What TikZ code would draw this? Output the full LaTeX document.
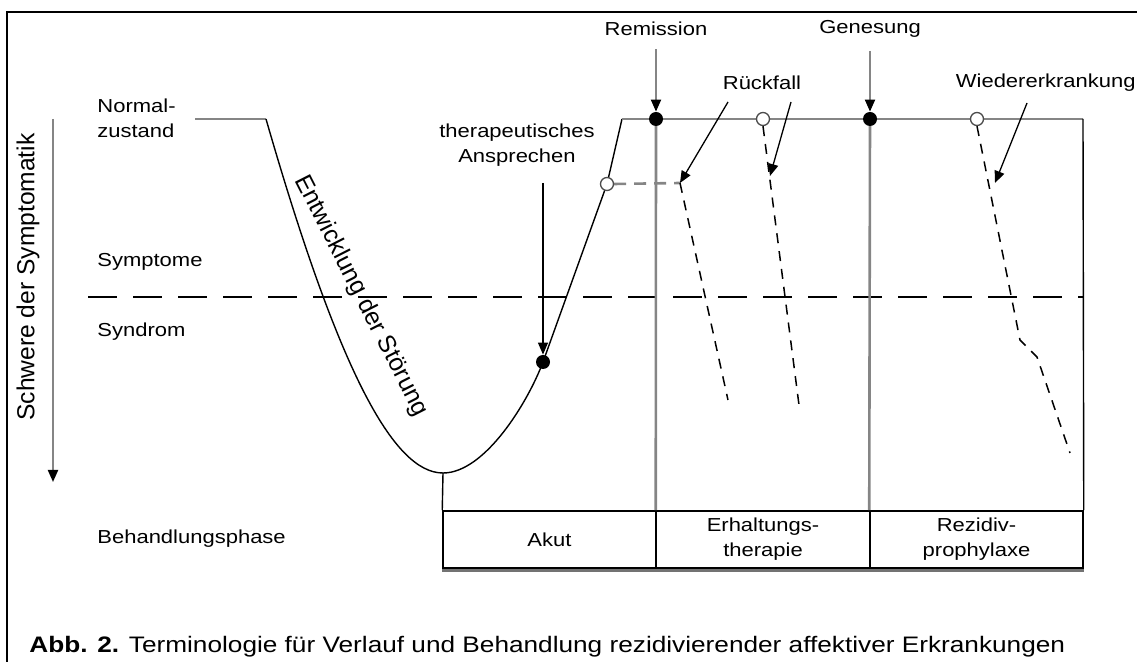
\documentclass[tikz,border=0pt]{standalone}
\usepackage{fontspec}
\setmainfont{Liberation Sans}
\newfontfamily\labfont{Liberation Sans}[FakeStretch=1.17]
\usetikzlibrary{arrows.meta}
\pgfdeclarelayer{fg}
\pgfsetlayers{main,fg}
\begin{document}
\begin{tikzpicture}[x=0.5pt,y=-0.5pt,
  lbl/.style={font=\labfont\fontsize{9.4}{12.5}\selectfont, inner sep=0pt},
  rot/.style={font=\fontsize{12.3}{14}\selectfont, inner sep=0pt},
  gline/.style={draw=black!48, line width=1.3pt},
  bline/.style={draw=black, line width=0.7pt},
  curve/.style={draw=black, line width=0.7pt},
  tip/.style={-{Triangle[length=6pt,width=5pt,color=black]}},
  garrow/.style={gline, line width=1pt, tip},
  barrow/.style={draw=black, line width=0.65pt, tip},
  levelline/.style={draw=black, line width=0.8pt, dash pattern=on 14.5pt off 8pt},
  relapse/.style={draw=black, line width=0.75pt, dash pattern=on 5pt off 4pt},
  grelapse/.style={draw=black!48, line width=1.3pt, dash pattern=on 6pt off 4pt},
  dot/.style={circle, fill=black, inner sep=0pt, minimum size=7pt},
  odot/.style={circle, draw=black!70, line width=0.65pt, fill=white, inner sep=0pt, minimum size=6.5pt},
  cell/.style={rectangle, draw=black, line width=0.75pt, minimum width=106.5pt, minimum height=28.5pt, inner sep=0pt, align=center, font=\labfont\fontsize{9.4}{12.5}\selectfont}]

\useasboundingbox (0,0) rectangle (1137,662);

% frame
\draw[black, line width=0.8pt] (7,662) -- (7,12) -- (1137,12);

% markers on the course
\begin{pgfonlayer}{fg}
  \node[dot]  (resp) at (543,362) {};
  \node[odot] (oc1)  at (607,184) {};
  \node[dot]  (rem)  at (656,119) {};
  \node[odot] (oc2)  at (763,119) {};
  \node[dot]  (gen)  at (870,119) {};
  \node[odot] (oc3)  at (977,119) {};
\end{pgfonlayer}

% treatment phase table
\node[cell] (akut) at (549.5,539.5) {Akut};
\node[cell] (erh)  at (763,539.5) {Erhaltungs-\\therapie};
\node[cell] (rez)  at (976.5,539.5) {Rezidiv-\\prophylaxe};
\draw[black!55, line width=1.2pt] ([yshift=-0.9pt]akut.south west) -- ([yshift=-0.9pt]rez.south east);

% levels
\coordinate (n1) at (195,119);
\coordinate (n2) at (266,119);
\coordinate (bot) at (443,473);
\coordinate (tc) at (622,119);
\coordinate (tr) at (1083,119);
\coordinate (dl) at (88,297);
\coordinate (dr) at (1083,297);

\draw[levelline] (dl) -- (dr);

% course of the disorder
\draw[gline] (n1) -- (n2);
\draw[curve] (n2) .. controls (338,369) and (393,473) .. (bot)
  .. controls (485,473) and (528,402) .. (resp.center) -- (oc1.center) -- (tc);
\draw[gline] (tc) -- (tr);
\draw[bline] (tr) -- (rez.north east);
\draw[gline] (rem.center) -- (erh.north west);
\draw[gline] (gen.center) -- (rez.north west);
\draw[curve] (bot) -- (akut.north west);

% relapses and recurrence
\coordinate (r1) at (680,183);
\coordinate (r1e) at (728,400);
\coordinate (r2e) at (799,405);
\coordinate (r3a) at (1020,340);
\coordinate (r3b) at (1037,357);
\coordinate (r3e) at (1070,453);
\draw[grelapse] (oc1.east) -- (r1);
\draw[relapse] (r1) -- (r1e);
\draw[relapse] (oc2.south) -- (r2e);
\draw[relapse] (oc3.south) -- (r3a) -- (r3b) -- (r3e);

% axis
\coordinate (ax1) at (53,119);
\coordinate (ax2) at (53,482);
\draw[garrow] (ax1) -- (ax2);
\node[rot, rotate=90] (axl) at (28,277) {Schwere der Symptomatik};

% left labels
\node[lbl, anchor=west, align=left] (norm) at (97,118) {Normal-\\zustand};
\node[lbl, anchor=west] (sympt) at (97,262) {Symptome};
\node[lbl, anchor=west] (synd) at (97,332) {Syndrom};
\node[lbl, anchor=west] (beh) at (97,539) {Behandlungsphase};

% curve label
\node[rot, rotate=-63] (entw) at (361,296) {Entwicklung der Störung};

% event labels
\node[lbl, align=center] (ther) at (517,145) {therapeutisches\\Ansprechen};
\node[lbl] (reml) at (656,29) {Remission};
\node[lbl] (genl) at (870,29) {Genesung};
\node[lbl] (rfl) at (762,83) {Rückfall};
\node[lbl, anchor=east] (wel) at (1136,83) {Wiedererkrankung};

\coordinate (t1) at (543,183);
\draw[barrow] (t1) -- (resp.north);
\draw[garrow] ([yshift=-6.5pt]reml.south) -- (rem.north);
\draw[garrow] ([yshift=-6.5pt]genl.south) -- (gen.north);

\coordinate (ra) at (728,102);
\coordinate (rb) at (791,102);
\coordinate (wa) at (1027,103);
\coordinate (wt) at (995,183);
\coordinate (rbt) at (770,176);
\draw[barrow] (ra) -- (r1);
\draw[barrow] (rb) -- (rbt);
\draw[barrow] (wa) -- (wt);

% caption
\node[anchor=base west, inner sep=0pt, font=\labfont\fontsize{11.2}{13}\selectfont] (cap) at (29,653)
  {\textbf{Abb. 2.} Terminologie für Verlauf und Behandlung rezidivierender affektiver Erkrankungen};
\end{tikzpicture}
\end{document}
